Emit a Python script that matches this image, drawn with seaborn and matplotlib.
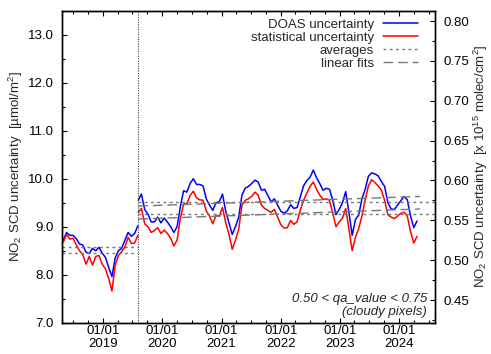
import matplotlib
matplotlib.use("Agg")
import matplotlib.dates as mdates
import matplotlib.pyplot as plt
import pandas as pd
import seaborn as sns
from matplotlib.ticker import FormatStrFormatter, MultipleLocator

# time axis: one value every 20 days, split at the processor change
DATES_V1 = pd.date_range("2018-05-01", periods=24, freq="20D")
DATES_V2 = pd.date_range("2019-08-06", periods=87, freq="20D")
SWITCH_DATE = pd.Timestamp("2019-08-06")
FIT_END = pd.Timestamp("2024-05-10")
X_START = pd.Timestamp("2018-04-23")
X_END = pd.Timestamp("2024-08-10")

DOAS_V1 = [8.72, 8.88, 8.82, 8.82, 8.75, 8.64, 8.62, 8.47, 8.44, 8.55, 8.50, 8.57,
           8.45, 8.36, 8.15, 7.96, 8.35, 8.50, 8.55, 8.72, 8.88, 8.80, 8.86, 9.02]
STAT_V1 = [8.68, 8.84, 8.74, 8.76, 8.62, 8.50, 8.42, 8.22, 8.38, 8.20, 8.38, 8.40,
           8.22, 8.12, 7.92, 7.66, 8.20, 8.40, 8.48, 8.58, 8.78, 8.65, 8.66, 8.82]
DOAS_V2 = [9.55, 9.68, 9.36, 9.26, 9.10, 9.10, 9.20, 9.08, 9.18, 9.10,
           9.00, 8.88, 9.00, 9.42, 9.75, 9.72, 9.90, 10.00, 9.88, 9.88,
           9.85, 9.58, 9.45, 9.34, 9.50, 9.52, 9.68, 9.32, 9.08, 8.84,
           9.00, 9.20, 9.66, 9.80, 9.84, 9.90, 9.97, 9.93, 9.76, 9.78,
           9.65, 9.52, 9.58, 9.45, 9.32, 9.28, 9.33, 9.46, 9.38, 9.40,
           9.62, 9.85, 9.96, 10.03, 10.18, 10.02, 9.90, 9.76, 9.80, 9.78,
           9.55, 9.25, 9.36, 9.50, 9.73, 9.30, 8.82, 9.15, 9.24, 9.58,
           9.78, 10.05, 10.12, 10.10, 10.06, 9.94, 9.84, 9.50, 9.37, 9.36,
           9.45, 9.54, 9.63, 9.56, 9.22, 8.98, 9.12]
STAT_V2 = [9.30, 9.38, 9.06, 9.00, 8.88, 8.92, 8.98, 8.86, 8.93, 8.86,
           8.76, 8.60, 8.72, 9.18, 9.47, 9.48, 9.65, 9.74, 9.60, 9.56,
           9.55, 9.33, 9.22, 9.06, 9.24, 9.22, 9.40, 9.08, 8.84, 8.53,
           8.72, 8.95, 9.45, 9.55, 9.58, 9.63, 9.72, 9.66, 9.45, 9.38,
           9.34, 9.30, 9.36, 9.20, 9.04, 8.97, 8.98, 9.13, 9.05, 9.10,
           9.35, 9.55, 9.70, 9.84, 9.93, 9.78, 9.66, 9.57, 9.58, 9.55,
           9.28, 9.00, 9.10, 9.18, 9.38, 8.95, 8.50, 8.78, 8.96, 9.22,
           9.56, 9.85, 9.98, 9.92, 9.85, 9.76, 9.55, 9.25, 9.20, 9.17,
           9.22, 9.28, 9.30, 9.22, 8.90, 8.66, 8.80]

# period averages (before / after switch) and linear fits after switch
AVG_DOAS = [8.57, 9.52]
AVG_STAT = [8.46, 9.26]
FIT_DOAS = [9.43, 9.63]
FIT_STAT = [9.16, 9.37]

UMOL_TO_E15 = 0.06022  # 1 umol/m2 = 0.06022e15 molec/cm2
Y_LIM = (7.0, 13.5)

sns.set_style("ticks")
plt.rcParams["font.family"] = ["Liberation Sans", "DejaVu Sans"]
plt.rcParams["mathtext.fontset"] = "custom"
plt.rcParams["mathtext.rm"] = "Liberation Sans"
plt.rcParams["mathtext.it"] = "Liberation Sans:italic"
plt.rcParams["font.size"] = 9.5

fig = plt.figure(figsize=(4.91, 3.54), dpi=100)
ax = fig.add_axes([0.1263, 0.0884, 0.7597, 0.8814])

blue, red, grey = "#0000ff", "#ff0000", "#777777"
periods = [(DATES_V1, DOAS_V1, STAT_V1), (DATES_V2, DOAS_V2, STAT_V2)]
for i, (dates, doas, stat) in enumerate(periods):
    sns.lineplot(x=dates, y=doas, color=blue, lw=1.1, ax=ax,
                 label="DOAS uncertainty" if i == 0 else None)
    sns.lineplot(x=dates, y=stat, color=red, lw=1.1, ax=ax,
                 label="statistical uncertainty" if i == 0 else None)

bounds = [(X_START, SWITCH_DATE), (SWITCH_DATE, X_END)]
for i, (a, b) in enumerate(bounds):
    for j, avg in enumerate([AVG_DOAS[i], AVG_STAT[i]]):
        ax.plot([a, b], [avg, avg], color=grey, lw=1.0, ls=(0, (2, 2.5)),
                label="averages" if i == 0 and j == 0 else None)
for j, fit in enumerate([FIT_DOAS, FIT_STAT]):
    ax.plot([SWITCH_DATE, FIT_END], fit, color=grey, lw=1.0, ls=(0, (7, 3.5)),
            label="linear fits" if j == 0 else None)
ax.axvline(SWITCH_DATE, color="#444444", lw=0.8, ls=(0, (1, 1.2)))

ax.set_xlim(X_START, X_END)
ax.set_ylim(*Y_LIM)
ax.xaxis.set_major_locator(mdates.YearLocator())
ax.xaxis.set_minor_locator(mdates.MonthLocator(bymonth=[1, 4, 7, 10]))
ax.xaxis.set_major_formatter(mdates.DateFormatter("%m/%d\n%Y"))
ax.yaxis.set_major_locator(MultipleLocator(1.0))
ax.yaxis.set_minor_locator(MultipleLocator(0.5))
ax.yaxis.set_major_formatter(FormatStrFormatter("%.1f"))
ax.tick_params(which="both", direction="in", top=True, right=False, colors="black",
               labelsize=9.5, width=0.8)
ax.tick_params(which="major", length=3.5)
ax.tick_params(which="minor", length=2.5)
ax.tick_params(axis="y", which="major", pad=6)
ax.tick_params(axis="x", which="major", pad=2)
for lab in ax.get_xticklabels():
    lab.set_linespacing(1.05)
ax.set_xlabel("")
ax.set_ylabel("NO$_2$ SCD uncertainty  [µmol/m$^2$]", fontsize=9.5, labelpad=2)

ax2 = ax.twinx()
ax2.set_ylim(Y_LIM[0] * UMOL_TO_E15, Y_LIM[1] * UMOL_TO_E15)
ax2.yaxis.set_major_locator(MultipleLocator(0.05))
ax2.yaxis.set_minor_locator(MultipleLocator(0.025))
ax2.yaxis.set_major_formatter(FormatStrFormatter("%.2f"))
ax2.tick_params(which="both", direction="in", colors="black", labelsize=9.5, width=0.8)
ax2.tick_params(which="major", length=3.5, pad=6)
ax2.tick_params(which="minor", length=2.5)
ax2.set_ylabel("NO$_2$ SCD uncertainty  [x 10$^{15}$ molec/cm$^2$]", fontsize=9.5, labelpad=2)
for a in (ax, ax2):
    for s in a.spines.values():
        s.set_visible(True)
        s.set_linewidth(1.0)
        s.set_color("black")

leg = ax.legend(loc="upper right", frameon=False, markerfirst=False, fontsize=9.5,
                handlelength=2.6, handletextpad=0.7, labelspacing=0.05,
                borderaxespad=0.2, bbox_to_anchor=(0.975, 1.0))

ax.text(0.979, 0.015, "0.50 < qa_value < 0.75\n(cloudy pixels)", transform=ax.transAxes,
        ha="right", va="bottom", multialignment="right", style="italic", fontsize=9.5,
        linespacing=1.15)

fig.savefig("out.png", dpi=100)
